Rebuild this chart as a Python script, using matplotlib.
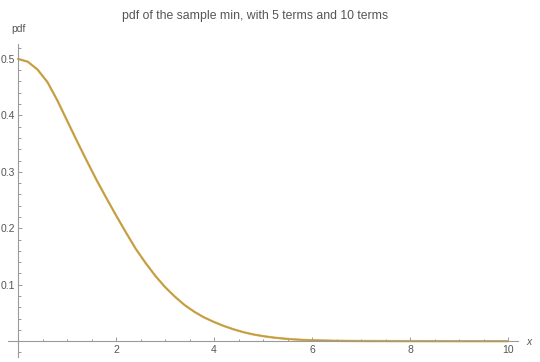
import numpy as np
import matplotlib.pyplot as plt
from matplotlib.ticker import MultipleLocator

# values (both series lie on top of each other)
x_vals = [0.0, 0.2, 0.4, 0.6, 0.8, 1.0, 1.2, 1.4, 1.6, 1.8, 2.0, 2.2, 2.4,
          2.6, 2.8, 3.0, 3.2, 3.4, 3.6, 3.8, 4.0, 4.2, 4.4, 4.6, 4.8, 5.0,
          5.2, 5.4, 5.6, 5.8, 6.0, 6.5, 7.0, 8.0, 9.0, 10.0]
pdf_5_terms = [0.500, 0.495, 0.481, 0.459, 0.427, 0.391, 0.355, 0.320, 0.286,
               0.254, 0.223, 0.193, 0.164, 0.139, 0.116, 0.096, 0.079, 0.064,
               0.052, 0.042, 0.034, 0.027, 0.021, 0.016, 0.012, 0.009, 0.0066,
               0.0048, 0.0034, 0.0024, 0.0017, 0.0007, 0.0003, 0.0001, 0.0, 0.0]
pdf_10_terms = list(pdf_5_terms)

title = "pdf of the sample min, with 5 terms and 10 terms"

plt.rcParams['font.family'] = ['Liberation Sans', 'DejaVu Sans']

fig = plt.figure(figsize=(5.4, 3.62), dpi=100)
ax = fig.add_axes([0.0152, 0.0138, 0.9437, 0.864])

ax.plot(x_vals, pdf_5_terms, color='#5E81B5', lw=1.1, solid_capstyle='round')
ax.plot(x_vals, pdf_10_terms, color='#E1A524', lw=1.7, alpha=0.75,
        solid_capstyle='round')

ax.set_xlim(-0.2, 10.2)
ax.set_ylim(-0.028, 0.526)

axis_col = '#9a9a9a'
for s in ['top', 'right']:
    ax.spines[s].set_visible(False)
ax.spines['left'].set_position(('data', 0))
ax.spines['bottom'].set_position(('data', 0))
ax.spines['left'].set_color(axis_col)
ax.spines['bottom'].set_color(axis_col)
ax.spines['left'].set_linewidth(0.8)
ax.spines['bottom'].set_linewidth(0.8)

ax.set_xticks([2, 4, 6, 8, 10])
ax.set_yticks([0.1, 0.2, 0.3, 0.4, 0.5])
ax.set_yticklabels(['0.1', '0.2', '0.3', '0.4', '0.5'])
ax.xaxis.set_minor_locator(MultipleLocator(0.5))
ax.yaxis.set_minor_locator(MultipleLocator(0.02))
ax.tick_params(which='both', direction='in', color=axis_col, labelcolor='#555555',
               labelsize=7.5, width=0.7)
ax.tick_params(which='major', length=3.2)
ax.tick_params(which='minor', length=1.8)
ax.tick_params(axis='x', pad=3)
ax.tick_params(axis='y', pad=2)

fig.text(0.472, 0.956, title, ha='center', va='center', fontsize=8.8,
         color='#555555')
fig.text(18 / 540, 1 - 29 / 362, 'pdf', ha='center', va='center', fontsize=7.5,
         color='#555555')
fig.text(529 / 540, 1 - 342 / 362, 'x', ha='center', va='center', fontsize=7.5,
         color='#555555', style='italic')

fig.savefig('out.png', dpi=100)
